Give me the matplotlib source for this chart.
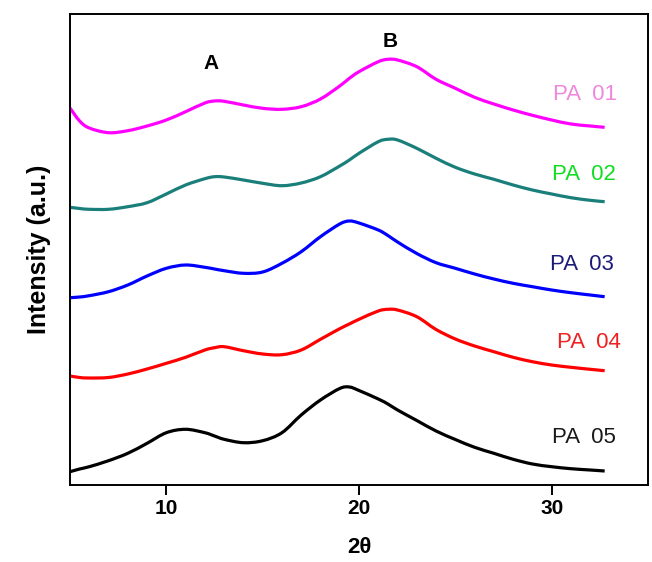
import matplotlib
matplotlib.use("Agg")
import matplotlib.pyplot as plt
from matplotlib.path import Path
from matplotlib.patches import PathPatch

plt.rcParams['font.family'] = ['Liberation Sans', 'DejaVu Sans']

# 2-theta sample positions
two_theta = [5, 5.5, 6, 7, 8, 9, 10, 11, 12, 12.5, 13, 14, 15, 16, 17, 18, 19,
             19.5, 20, 21, 21.5, 22, 23, 24, 25, 26, 27, 28, 29, 30, 31, 32, 32.75]

# Offset intensities (a.u.)
pa01 = [377, 364, 357, 352.3, 354.3, 359, 365, 373.3, 382, 384, 383.7, 380, 376.7,
        375.7, 378.3, 386, 399, 406.7, 413.3, 423.3, 425.7, 425, 418.3, 405.7, 396.7,
        387.7, 381, 375, 369.7, 365, 361, 359, 357.7]
pa02 = [277.7, 276.5, 275.7, 275.7, 278.3, 282.3, 291, 300, 306.3, 308.3, 308, 305,
        301.7, 299.3, 302, 308.3, 319, 325, 331.7, 343.3, 345.7, 345, 336.7, 326.7,
        317.7, 311, 305.7, 300, 295, 291, 287.3, 284.7, 283.3]
pa03 = [187.3, 188, 189.3, 193.3, 200, 209, 216.7, 220, 217.7, 216, 214.3, 211.7, 213,
        221.7, 233.3, 248.3, 261, 264, 262, 255, 249.5, 243, 231.5, 222.3, 216.7,
        211, 206, 201.7, 198.3, 195, 192.3, 190, 188.3]
pa04 = [109, 107.5, 107, 107.5, 111, 116, 121.7, 127.7, 135, 137.3, 138.3, 134.3,
        131, 130.3, 135, 145.7, 156.3, 161, 165.7, 174, 175.7, 175, 168.3, 155.5, 146,
        139, 133.3, 127.7, 123.3, 120, 117.7, 115.7, 114.3]
pa05 = [13.3, 16, 18.3, 24.3, 31.7, 41.7, 52.3, 55.7, 52.3, 49, 45.7, 42.3, 44.3, 52.3,
        70, 85, 96.5, 98, 94.5, 86, 81, 75, 64.5, 54, 45.5, 37.7, 31.7, 25.7, 21,
        18.3, 16.3, 15, 14]

series = [pa01, pa02, pa03, pa04, pa05]
names = ["PA  01", "PA  02", "PA  03", "PA  04", "PA  05"]
line_colors = ["#FF00FF", "#1A7F7A", "#0000FF", "#FF0000", "#000000"]
label_colors = ["#EE88DD", "#11DD22", "#1C1C78", "#EE2222", "#1A1A1A"]
label_pos = [(31.72, 391), (31.67, 311), (31.55, 220), (31.93, 142.3), (31.65, 47.7)]

peak_labels = ["A", "B"]
peak_pos = [(12.3, 421.7), (21.6, 443.3)]


def smooth_path(xs, ys):
    """Catmull-Rom curve through the read points, as cubic Bezier segments."""
    pts = list(zip(xs, ys))
    n = len(pts)
    verts = [pts[0]]
    codes = [Path.MOVETO]
    for i in range(n - 1):
        p0 = pts[max(i - 1, 0)]
        p1 = pts[i]
        p2 = pts[i + 1]
        p3 = pts[min(i + 2, n - 1)]
        c1 = (p1[0] + (p2[0] - p0[0]) / 6.0, p1[1] + (p2[1] - p0[1]) / 6.0)
        c2 = (p2[0] - (p3[0] - p1[0]) / 6.0, p2[1] - (p3[1] - p1[1]) / 6.0)
        verts += [c1, c2, p2]
        codes += [Path.CURVE4, Path.CURVE4, Path.CURVE4]
    return Path(verts, codes)


fig = plt.figure(figsize=(6.52, 5.62), dpi=100)
ax = fig.add_axes([70/652, 1-485/562, 578/652, 471/562])

for vals, c in zip(series, line_colors):
    patch = PathPatch(smooth_path(two_theta, vals), facecolor='none',
                      edgecolor=c, lw=2.3, capstyle='butt', joinstyle='round')
    ax.add_patch(patch)

for name, c, (x, y) in zip(names, label_colors, label_pos):
    ax.text(x, y, name, color=c, fontsize=16, ha='center', va='center')

for lab, (x, y) in zip(peak_labels, peak_pos):
    ax.text(x, y, lab, color='black', fontsize=15, fontweight='bold',
            ha='center', va='center')

ax.set_xlim(5, 35)
ax.set_ylim(0, 471)
ax.set_xticks([10, 20, 30])
ax.set_yticks([])
ax.tick_params(axis='x', direction='out', length=7, width=1.4, labelsize=15, pad=3)
for lbl in ax.get_xticklabels():
    lbl.set_fontweight('bold')
for s in ax.spines.values():
    s.set_linewidth(1.4)

ax.set_xlabel("2\u03b8", fontsize=16, fontweight='bold', labelpad=14)
ax.set_ylabel("Intensity (a.u.)", fontsize=18, fontweight='bold', labelpad=14)

fig.savefig("out.png", dpi=100)
